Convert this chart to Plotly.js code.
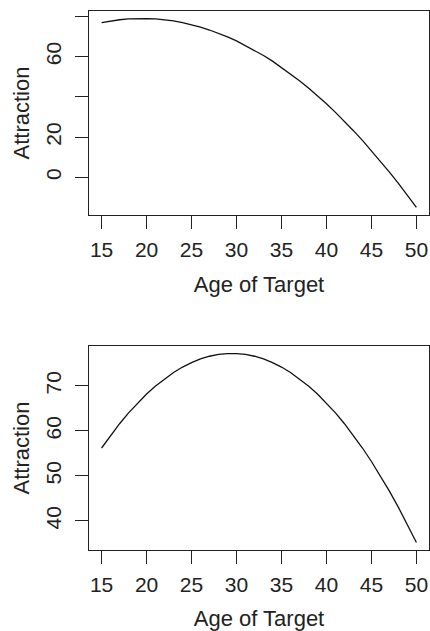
<!DOCTYPE html>
<html>
<head>
<meta charset="utf-8">
<script src="https://cdn.plot.ly/plotly-3.0.1.min.js"></script>
<style>html,body{margin:0;padding:0;background:#fff;}#chart{width:430px;height:631px;}</style>
</head>
<body>
<div id="chart"></div>
<script>
const ages = [15,16,17,18,19,20,21,22,23,24,25,26,27,28,29,30,31,32,33,34,35,36,37,38,39,40,41,42,43,44,45,46,47,48,49,50];
const attractionTop = [77.0,77.8,78.4,78.8,79.0,79.0,78.8,78.4,77.8,77.0,75.9,74.7,73.3,71.7,69.9,67.9,65.6,63.2,60.6,57.8,54.7,51.5,48.1,44.4,40.6,36.6,32.3,27.9,23.2,18.4,13.3,8.1,2.6,-3.0,-8.9,-15.0];
const attractionBottom = [56.2,59.0,61.6,64.0,66.2,68.2,70.0,71.6,73.0,74.2,75.2,76.0,76.6,77.0,77.2,77.2,77.0,76.6,76.0,75.2,74.2,73.0,71.6,70.0,68.2,66.2,64.0,61.6,59.0,56.2,53.2,50.0,46.6,43.0,39.2,35.2];
const xTicks = [15,20,25,30,35,40,45,50];
const yTicksTop = [0,20,40,60,80];
const yLabelsTop = ['0','20','','60',''];
const yTicksBottom = [40,50,60,70];
const yLabelsBottom = ['40','50','60','70'];
const xTitle = 'Age of Target';
const yTitle = 'Attraction';

function pad(arr){const mn=Math.min(...arr), mx=Math.max(...arr), p=(mx-mn)*0.04; return [mn-p, mx+p];}
const xr = pad(ages);

const font = {family:'Liberation Sans, Arial, Helvetica, sans-serif', size:21, color:'#222'};
const titleFont = {family:'Liberation Sans, Arial, Helvetica, sans-serif', size:22, color:'#222'};

function xa(anchor){return {
  domain:[89/430, 429/430], anchor:anchor, range:xr, tickmode:'array', tickvals:xTicks, ticktext:xTicks.map(String),
  showline:true, mirror:true, linecolor:'#222', linewidth:1, ticks:'outside', ticklen:13, tickcolor:'#222', tickwidth:1,
  showgrid:false, zeroline:false, tickfont:font, ticklabelstandoff:3,
  title:{text:xTitle, font:titleFont, standoff:16}
};}
function ya(anchor, dom, rng, tv, tt){return {
  domain:dom, anchor:anchor, range:rng, tickmode:'array', tickvals:tv, ticktext:tt, tickangle:-90,
  showline:true, mirror:true, linecolor:'#222', linewidth:1, ticks:'outside', ticklen:13, tickcolor:'#222', tickwidth:1,
  showgrid:false, zeroline:false, tickfont:font, ticklabelstandoff:6,
  title:{text:yTitle, font:titleFont, standoff:5}
};}

const data = [
  {x:ages, y:attractionTop, type:'scatter', mode:'lines', line:{color:'#111', width:1.3}, xaxis:'x', yaxis:'y', hoverinfo:'skip'},
  {x:ages, y:attractionBottom, type:'scatter', mode:'lines', line:{color:'#111', width:1.3}, xaxis:'x2', yaxis:'y2', hoverinfo:'skip'}
];
const layout = {
  width:430, height:631, margin:{l:0,r:0,t:0,b:0}, showlegend:false,
  paper_bgcolor:'#fff', plot_bgcolor:'#fff',
  xaxis: xa('y'),
  yaxis: ya('x', [1-215/631, 1-11/631], pad(attractionTop), yTicksTop, yLabelsTop),
  xaxis2: xa('y2'),
  yaxis2: ya('x2', [1-550/631, 1-346/631], pad(attractionBottom), yTicksBottom, yLabelsBottom)
};
Plotly.newPlot('chart', data, layout, {staticPlot:true, displayModeBar:false});
</script>
</body>
</html>
